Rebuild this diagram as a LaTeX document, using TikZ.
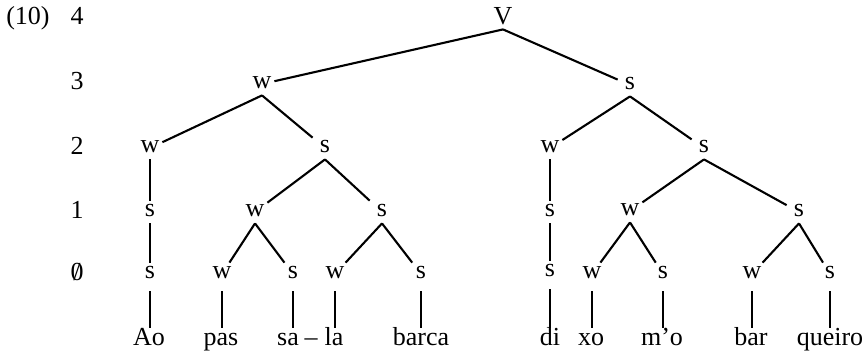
\documentclass[tikz,border=0pt]{standalone}
\usepackage{fontspec}
\setmainfont{Liberation Serif}
\usetikzlibrary{positioning}
\newcommand{\slashzero}{\ooalign{0\cr\hidewidth/\hidewidth}}

\tikzset{
  mnode/.style={inner sep=0pt, minimum width=12pt, minimum height=11pt,
    text height=1ex, text depth=0pt},
  lvl/.style={inner sep=0pt, text height=1.45ex, text depth=0pt},
  word/.style={anchor=base, inner xsep=1pt, inner ysep=1.5pt,
    text height=1.5ex, text depth=0.5ex},
  branch/.style={line width=1.05pt},
}

\begin{document}
\begin{tikzpicture}[x=0.5pt, y=-0.5pt, every node/.style={font=\fontsize{13}{15}\selectfont}]
  \useasboundingbox (0,0) rectangle (867,350);

  % level numbers
  \node[lvl] (num) at (28,18) {(10)};
  \node[lvl] (lv4) at (77,18) {4};
  \node[lvl] (lv3) at (77,83) {3};
  \node[lvl] (lv2) at (77,148) {2};
  \node[lvl] (lv1) at (77,212) {1};
  \node[lvl] (lv0) at (77,274) {\slashzero};

  % tree
  \node[mnode, text height=0.66em] (V) at (503,18) {V};

  \node[mnode] (w3) at (262,84) {w};
  \node[mnode] (s3) at (630,85) {s};

  \node[mnode] (w2a) at (150,148) {w};
  \node[mnode] (s2a) at (325,148) {s};
  \node[mnode] (w2b) at (550,148) {w};
  \node[mnode] (s2b) at (704,148) {s};

  \node[mnode] (s1a) at (150,212) {s};
  \node[mnode] (w1a) at (255,212) {w};
  \node[mnode] (s1b) at (382,212) {s};
  \node[mnode] (s1c) at (550,212) {s};
  \node[mnode] (w1b) at (630,211) {w};
  \node[mnode] (s1d) at (799,212) {s};

  \node[mnode] (s0a) at (150,274) {s};
  \node[mnode] (w0a) at (222,274) {w};
  \node[mnode] (s0b) at (293,274) {s};
  \node[mnode] (w0b) at (335,274) {w};
  \node[mnode] (s0c) at (421,274) {s};
  \node[mnode] (s0d) at (550,272) {s};
  \node[mnode] (w0c) at (592,274) {w};
  \node[mnode] (s0e) at (663,274) {s};
  \node[mnode] (w0d) at (752,274) {w};
  \node[mnode] (s0f) at (830,274) {s};

  % syllables
  \node[word] (ao) at (149,345) {Ao};
  \node[word] (pas) at (221,345) {pas};
  \node[word] (sa) at (288,345) {sa};
  \node[word] (hyph) at (311,345) {--};
  \node[word] (la) at (334,345) {la};
  \node[word] (barca) at (421,345) {barca};
  \node[word] (di) at (550,345) {di};
  \node[word] (xo) at (591,345) {xo};
  \node[word] (mo) at (662,345) {m’o};
  \node[word] (bar) at (751,345) {bar};
  \node[word] (queiro) at (830,345) {queiro};

  \foreach \p/\c in {V/w3, V/s3, w3/w2a, w3/s2a, s3/w2b, s3/s2b,
      w2a/s1a, s2a/w1a, s2a/s1b, w2b/s1c, s2b/w1b, s2b/s1d,
      s1a/s0a, w1a/w0a, w1a/s0b, s1b/w0b, s1b/s0c, s1c/s0d,
      w1b/w0c, w1b/s0e, s1d/w0d, s1d/s0f}
    \draw[branch] (\p.south) -- (\c);

  \foreach \p/\c in {s0a/ao, w0a/pas, s0b/sa, w0b/la, s0c/barca,
      s0d/di, w0c/xo, s0e/mo, w0d/bar, s0f/queiro}
    \draw[branch, shorten <=3pt] (\p.south) -- (\p.south |- \c.north);
\end{tikzpicture}
\end{document}
